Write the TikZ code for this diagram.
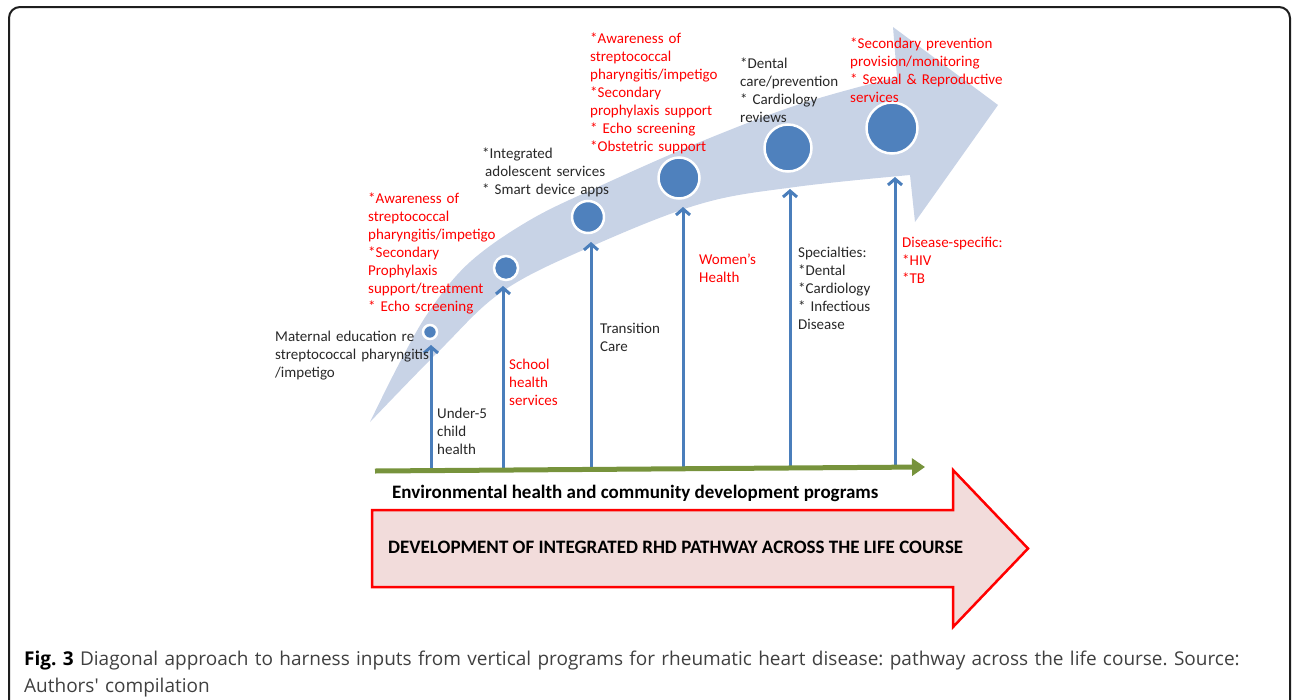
\documentclass[tikz,border=0pt]{standalone}
\usepackage{fontspec}
\setmainfont{Carlito}
\newfontfamily\capfont{Open Sans}
\usetikzlibrary{arrows.meta}
\frenchspacing
\definecolor{bandc}{RGB}{200,211,230}
\definecolor{dotc}{RGB}{79,129,189}
\definecolor{arrc}{RGB}{74,126,187}
\definecolor{grn}{RGB}{119,147,60}
\definecolor{txtk}{RGB}{40,40,40}
\definecolor{txtr}{RGB}{255,0,0}
\definecolor{pinkf}{RGB}{242,220,219}
\definecolor{capg}{RGB}{64,64,64}
\begin{document}
\begin{tikzpicture}[x=1pt,y=-1pt,
  lbl/.style={anchor=base west, inner sep=0pt, text width=240pt, align=left, font=\fontsize{15}{18}\selectfont},
  lk/.style={lbl, text=txtk},
  lr/.style={lbl, text=txtr},
  dot/.style={circle, fill=dotc, draw=white, line width=2.5pt, inner sep=0pt, minimum size=#1},
  varrow/.style={draw=arrc, line width=3pt, -{Straight Barb[length=6pt,width=14pt]}},
  garrow/.style={draw=grn, line width=5pt, -{Triangle[length=13pt,width=17pt]}},
  boldlbl/.style={anchor=base west, inner sep=0pt, font=\bfseries\fontsize{19}{22}\selectfont, text=black}
]
\useasboundingbox (0,0) rectangle (1292,699);

% frame
\draw[line width=2pt, color={rgb,255:red,30;green,30;blue,30}, rounded corners=11pt] (9,705) -- (9,7) -- (1290,7) -- (1290,705);

% big curved band arrow
\fill[bandc] plot[smooth, tension=0.6] coordinates {(370,422) (400,362) (430,310) (470,262) (530,220) (600,186) (700,142) (800,104) (897,77)}
  -- (893,27) -- (998,105) -- (915,222)
  -- plot[smooth, tension=0.6] coordinates {(910,175) (795,187) (700,204) (590,247) (503,291) (440,350) (370,422)} -- cycle;

% base coordinates on green line and arrow tips
\coordinate (b1) at (431,470); \coordinate (t1) at (431,345);
\coordinate (b2) at (503,470); \coordinate (t2) at (503,286);
\coordinate (b3) at (591,469); \coordinate (t3) at (591,242);
\coordinate (b4) at (683,469); \coordinate (t4) at (683,207);
\coordinate (b5) at (790,468); \coordinate (t5) at (790,189);
\coordinate (b6) at (895,468); \coordinate (t6) at (895,177);

\foreach \i in {1,...,6} { \draw[varrow] (b\i) -- (t\i); }

% dots
\node[dot=14pt] (c1) at (430,332) {};
\node[dot=24pt] (c2) at (506,268) {};
\node[dot=32pt] (c3) at (588,217) {};
\node[dot=41pt] (c4) at (679,178) {};
\node[dot=47pt] (c5) at (788,148) {};
\node[dot=51pt] (c6) at (892,128) {};

% green arrow
\coordinate (gs) at (375,471);
\coordinate (ge) at (925,467);
\draw[garrow] (gs) -- (ge);

% labels
\node[lk] (mat) at (275,341) {Maternal education re\\streptococcal pharyngitis\\/impetigo};
\node[lr] (r1) at (368,203) {*Awareness of\\streptococcal\\pharyngitis/impetigo\\{}*Secondary\\Prophylaxis\\support/treatment\\{}* Echo screening};
\node[lk] (integ) at (482,158) {*Integrated\\\hspace*{3pt}adolescent services\\{}* Smart device apps};
\node[lr] (r2) at (590,43) {*Awareness of\\streptococcal\\pharyngitis/impetigo\\{}*Secondary\\prophylaxis support\\{}* Echo screening\\{}*Obstetric support};
\node[lk] (dent) at (740,68) {*Dental\\care/prevention\\{}* Cardiology\\reviews};
\node[lr] (r3) at (850,48) {*Secondary prevention\\provision/monitoring\\{}* Sexual \& Reproductive\\services};
\node[lk] (u5) at (437,418) {Under-5\\child\\health};
\node[lr] (school) at (509,369) {School\\health\\services};
\node[lk] (trans) at (600,333) {Transition\\Care};
\node[lr] (women) at (699,264) {Women's\\Health};
\node[lk] (spec) at (798,257) {Specialties:\\{}*Dental\\{}*Cardiology\\{}* Infectious\\Disease};
\node[lr] (dis) at (902,247) {Disease-specific:\\{}*HIV\\{}*TB};

\node[boldlbl] (env) at (392,498) {Environmental health and community development programs};

% red arrow
\draw[fill=pinkf, draw=red, line width=2.5pt, line join=miter]
  (372,510) -- (953,510) -- (953,470) -- (1028,548.5) -- (953,627) -- (953,587) -- (372,587) -- cycle;
\node[boldlbl] (dev) at (388,553) {DEVELOPMENT OF INTEGRATED RHD PATHWAY ACROSS THE LIFE COURSE};

% caption
\node[anchor=base west, inner sep=0pt, text width=1230pt, align=left, text=capg, font=\capfont\fontsize{19}{27}\selectfont] (cap) at (24,665)
 {\makebox[1219pt][s]{\textcolor{black}{\bfseries Fig.~3} Diagonal approach to harness inputs from vertical programs for rheumatic heart disease: pathway across the life course. Source:}\\Authors' compilation};
\end{tikzpicture}
\end{document}
